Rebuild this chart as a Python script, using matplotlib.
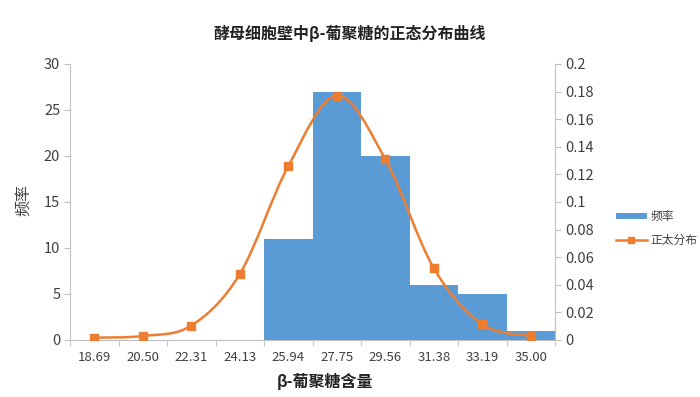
import matplotlib
matplotlib.use("Agg")
import matplotlib.pyplot as plt
from matplotlib.path import Path
from matplotlib.patches import PathPatch, Patch
from matplotlib.lines import Line2D

plt.rcParams["font.family"] = ["Noto Sans CJK SC", "DejaVu Sans"]

# chart data
bin_labels = ["18.69", "20.50", "22.31", "24.13", "25.94",
              "27.75", "29.56", "31.38", "33.19", "35.00"]
freq = [0, 0, 0, 0, 11, 27, 20, 6, 5, 1]
normal = [0.0017, 0.0029, 0.0104, 0.0478, 0.126,
          0.177, 0.131, 0.052, 0.0114, 0.0029]

BLUE = "#5B9BD5"
ORANGE = "#ED7D31"
GRID = "#BFBFBF"
TXT = "#404040"


def smooth_path(xs, ys):
    # Excel-style smoothed line: cubic bezier through the points
    verts = [(xs[0], ys[0])]
    codes = [Path.MOVETO]
    n = len(xs)
    for i in range(n - 1):
        x0, y0 = (xs[i - 1], ys[i - 1]) if i > 0 else (xs[i], ys[i])
        x1, y1 = xs[i], ys[i]
        x2, y2 = xs[i + 1], ys[i + 1]
        x3, y3 = (xs[i + 2], ys[i + 2]) if i + 2 < n else (x2, y2)
        c1 = (x1 + (x2 - x0) / 6, y1 + (y2 - y0) / 6)
        c2 = (x2 - (x3 - x1) / 6, y2 - (y3 - y1) / 6)
        verts += [c1, c2, (x2, y2)]
        codes += [Path.CURVE4] * 3
    return Path(verts, codes)


fig = plt.figure(figsize=(7, 3.97), dpi=100)
ax = fig.add_axes([0.1, 0.1436, 0.693, 0.6954])
pos = list(range(len(bin_labels)))
ax.bar(pos, freq, width=1.0, color=BLUE, zorder=2)
ax.set_xlim(-0.5, len(bin_labels) - 0.5)
ax.set_ylim(0, 30)
ax.set_yticks(range(0, 31, 5))
ax.set_xticks(pos)
ax.set_xticklabels(bin_labels)
ax.set_xticks([p - 0.5 for p in pos] + [pos[-1] + 0.5], minor=True)
ax.tick_params(axis="x", which="major", length=0, pad=8, labelsize=9.5, labelcolor=TXT)
ax.tick_params(axis="x", which="minor", length=4, color=GRID)
ax.tick_params(axis="y", length=4, color=GRID, labelsize=10.5, labelcolor=TXT, pad=3)
for side in ("top", "right"):
    ax.spines[side].set_visible(False)
for side in ("left", "bottom"):
    ax.spines[side].set_color(GRID)

ax2 = ax.twinx()
ax2.set_ylim(0, 0.2)
ax2.set_yticks([i * 0.02 for i in range(11)])
ax2.set_yticklabels(["0"] + [f"{i * 0.02:g}" for i in range(1, 11)])
ax2.tick_params(axis="y", length=4, color=GRID, labelsize=10.5, labelcolor=TXT, pad=3)
for side in ("top", "left", "bottom"):
    ax2.spines[side].set_visible(False)
ax2.spines["right"].set_color(GRID)
ax2.add_patch(PathPatch(smooth_path(pos, normal), fill=False,
                        edgecolor=ORANGE, linewidth=1.8, zorder=3))
ax2.plot(pos, normal, linestyle="none", marker="s", markersize=5.5,
         color=ORANGE, zorder=4)

fig.text(0.5, 0.915, "酵母细胞壁中β-葡聚糖的正态分布曲线", ha="center",
         va="center", fontsize=11.5, fontweight="bold", color="#222222")
fig.text(0.033, 0.497, "频率", rotation=90, ha="center", va="center",
         fontsize=11.5, color=TXT)
fig.text(0.464, 0.04, "β-葡聚糖含量", ha="center", va="center",
         fontsize=11.5, fontweight="bold", color="#222222")

handles = [Patch(facecolor=BLUE, label="频率"),
           Line2D([], [], color=ORANGE, marker="s", markersize=4,
                  linewidth=1.8, label="正太分布")]
fig.legend(handles=handles, loc="center left", bbox_to_anchor=(0.865, 0.425),
           frameon=False, fontsize=8.5, handlelength=2.6, handleheight=0.45,
           labelspacing=0.9, handletextpad=0.3, labelcolor=TXT)

fig.savefig("out.png", dpi=100)
